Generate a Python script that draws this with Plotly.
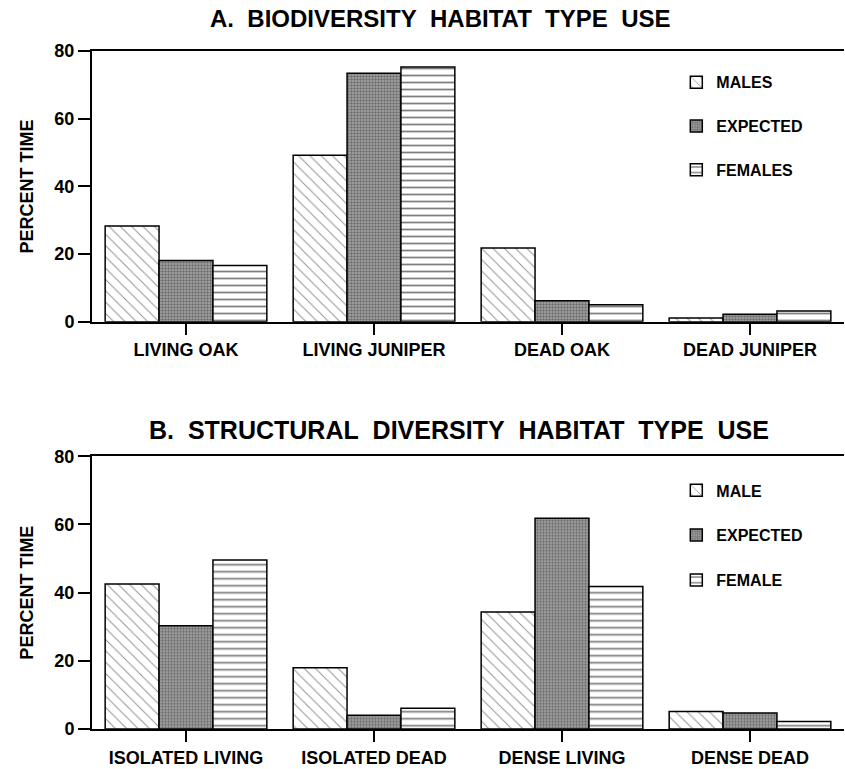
import plotly.graph_objects as go

cats_a = ["LIVING OAK", "LIVING JUNIPER", "DEAD OAK", "DEAD JUNIPER"]
males_a = [28.3, 49.2, 21.8, 1.1]
expected_a = [18.1, 73.4, 6.2, 2.2]
females_a = [16.6, 75.3, 5.0, 3.2]

cats_b = ["ISOLATED LIVING", "ISOLATED DEAD", "DENSE LIVING", "DENSE DEAD"]
males_b = [42.5, 18.0, 34.3, 5.1]
expected_b = [30.3, 4.0, 61.8, 4.7]
females_b = [49.6, 6.1, 41.8, 2.2]

yticks = [0, 20, 40, 60, 80]

FONT = "Liberation Sans"
bold = dict(family=FONT, weight="bold", color="black")

male_pat = dict(shape="\\", size=8, solidity=0.12, fgcolor="#222", bgcolor="white", fillmode="overlay")
exp_pat = dict(shape=".", size=3, solidity=0.5, fgcolor="#333", bgcolor="#a8a8a8", fillmode="overlay")
fem_pat = dict(shape="-", size=7, solidity=0.25, fgcolor="black", bgcolor="white", fillmode="overlay")
line = dict(color="black", width=1.5)

fig = go.Figure()

def add(cats, vals, name, pat, xa, ya, leg, grp):
    fig.add_trace(go.Bar(
        x=cats, y=vals, name=name, xaxis=xa, yaxis=ya, legend=leg, legendgroup=grp,
        marker=dict(color="white", pattern=pat, line=line),
    ))

add(cats_a, males_a, "MALES", male_pat, "x", "y", "legend", "a1")
add(cats_a, expected_a, "EXPECTED", exp_pat, "x", "y", "legend", "a2")
add(cats_a, females_a, "FEMALES", fem_pat, "x", "y", "legend", "a3")
add(cats_b, males_b, "MALE", male_pat, "x2", "y2", "legend2", "b1")
add(cats_b, expected_b, "EXPECTED", exp_pat, "x2", "y2", "legend2", "b2")
add(cats_b, females_b, "FEMALE", fem_pat, "x2", "y2", "legend2", "b3")

xcommon = dict(showline=True, linecolor="black", linewidth=2, mirror=True,
               ticks="outside", ticklen=11, tickwidth=2, tickcolor="black",
               tickfont=dict(size=18, **bold), range=[-0.5, 3.5], showgrid=False, zeroline=False)
ycommon = dict(showline=True, linecolor="black", linewidth=2, mirror=False,
               ticks="outside", ticklen=12, tickwidth=2, tickcolor="black",
               tickfont=dict(size=18, **bold), range=[0, 80], tickvals=yticks,
               showgrid=False, zeroline=False,
               title=dict(text="PERCENT TIME", font=dict(size=18, **bold), standoff=16))

S = "\u00a0"
title_a = f"A.{S} BIODIVERSITY{S} HABITAT{S} TYPE{S} USE"
title_b = f"B.{S} STRUCTURAL{S} DIVERSITY{S} HABITAT{S} TYPE{S} USE"

fig.update_layout(
    width=845, height=769,
    margin=dict(l=92, r=1, t=51, b=37),
    paper_bgcolor="white", plot_bgcolor="white",
    barmode="group", bargap=0.14, bargroupgap=0,
    xaxis=dict(domain=[0, 1], anchor="y", **xcommon),
    yaxis=dict(domain=[0.6006, 1], anchor="x", **ycommon),
    xaxis2=dict(domain=[0, 1], anchor="y2", **xcommon),
    yaxis2=dict(domain=[0, 0.4023], anchor="x2", **ycommon),
    legend=dict(x=0.777, y=0.979, xanchor="left", yanchor="top", bgcolor="rgba(0,0,0,0)",
                font=dict(size=16, **bold), tracegroupgap=20),
    legend2=dict(x=0.777, y=0.377, xanchor="left", yanchor="top", bgcolor="rgba(0,0,0,0)",
                 font=dict(size=16, **bold), tracegroupgap=21),
    annotations=[
        dict(text=title_a, xref="paper", yref="paper",
             x=0.463, y=1.0477, xanchor="center", yanchor="middle", showarrow=False,
             font=dict(size=24, **bold)),
        dict(text=title_b, xref="paper", yref="paper",
             x=0.488, y=0.4413, xanchor="center", yanchor="middle", showarrow=False,
             font=dict(size=25, **bold)),
    ],
)

fig.write_html("out.html", config={"displayModeBar": False},
               post_script="document.body.style.margin='0';document.body.style.overflow='hidden';")
